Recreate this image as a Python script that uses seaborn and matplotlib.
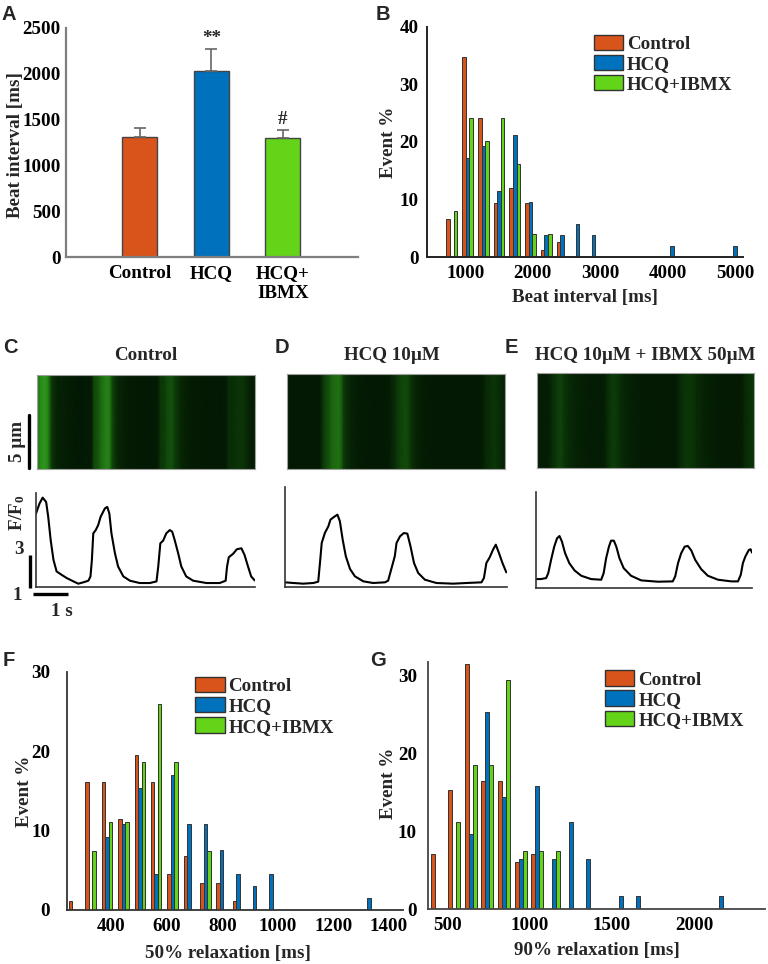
import numpy as np
import pandas as pd
import matplotlib
matplotlib.use("Agg")
import matplotlib.pyplot as plt
from matplotlib.patches import Patch
from matplotlib.colors import LinearSegmentedColormap
import seaborn as sns

groups = ["Control", "HCQ", "HCQ+IBMX"]
colors = ["#D9541A", "#0072BD", "#63D418"]

# A: mean beat interval (ms) and SEM
beat_mean = [1310, 2030, 1302]
beat_sem = [98, 237, 81]
beat_ticklabels = ["Control", "HCQ", "HCQ+\nIBMX"]
beat_marks = ["", "**", "#"]

# B: beat interval histogram, bin centres (ms) and event %
b_bins = [800, 1033, 1266, 1499, 1732, 1965, 2198, 2431, 2664, 2897, 4062, 4994]
b_control = [6.6, 34.7, 24.1, 9.4, 12.0, 9.4, 1.3, 2.6, 0, 0, 0, 0]
b_hcq = [0, 17.3, 19.3, 11.5, 21.2, 9.6, 3.8, 3.8, 5.7, 3.8, 1.9, 1.9]
b_ibmx = [8.0, 24.1, 20.1, 24.1, 16.1, 4.0, 4.0, 0, 0, 0, 0, 0]

# F: 50% relaxation histogram
f_bins = [266, 325, 384, 443, 502, 561, 620, 679, 738, 797, 856, 915, 974, 1328]
f_control = [1.1, 16.1, 16.1, 11.5, 19.5, 16.1, 4.5, 6.8, 3.4, 3.4, 1.1, 0, 0, 0]
f_hcq = [0, 0, 9.2, 10.8, 15.4, 4.5, 17.0, 10.8, 10.8, 7.6, 4.5, 3.0, 4.5, 1.5]
f_ibmx = [0, 7.4, 11.1, 11.1, 18.6, 26.0, 18.6, 0, 7.4, 0, 0, 0, 0, 0]

# G: 90% relaxation histogram
g_bins = [440, 541, 643, 744, 846, 947, 1049, 1150, 1252, 1353, 1556, 1658, 2165]
g_control = [7.1, 15.3, 31.6, 16.5, 16.5, 6.0, 7.1, 0, 0, 0, 0, 0, 0]
g_hcq = [0, 0, 9.6, 25.4, 14.4, 6.5, 15.9, 6.5, 11.2, 6.5, 1.7, 1.7, 1.7]
g_ibmx = [0, 11.2, 18.5, 18.5, 29.5, 7.5, 7.5, 7.5, 0, 0, 0, 0, 0]

# C-E: calcium transients, time (s) and F/F0
c_t = [0, 0.1, 0.19, 0.29, 0.35, 0.42, 0.5, 0.59, 0.73, 0.88, 1.07, 1.21, 1.35, 1.5,
       1.56, 1.6, 1.64, 1.71, 1.78, 1.85, 1.97, 2.04, 2.1, 2.16, 2.26, 2.35, 2.5, 2.69,
       2.97, 3.26, 3.45, 3.5, 3.56, 3.64, 3.73, 3.83, 3.9, 3.97, 4.07, 4.16, 4.3, 4.5,
       4.88, 5.26, 5.43, 5.47, 5.52, 5.64, 5.75, 5.88, 5.97, 6.07, 6.16, 6.26]
c_f = [5.5, 6.1, 6.46, 6.2, 5.3, 3.9, 2.7, 2.0, 1.8, 1.6, 1.4, 1.26, 1.34, 1.44,
       1.7, 2.7, 4.3, 4.5, 4.8, 5.3, 5.8, 5.9, 5.5, 4.3, 3.1, 2.3, 1.7, 1.44,
       1.3, 1.3, 1.4, 2.3, 3.7, 3.86, 4.3, 4.5, 4.4, 3.9, 3.1, 2.3, 1.7, 1.44,
       1.3, 1.3, 1.44, 2.3, 2.86, 3.06, 3.34, 3.4, 3.0, 2.3, 1.7, 1.46]
d_t = [0, 0.24, 0.52, 0.81, 0.95, 1.0, 1.05, 1.14, 1.24, 1.3, 1.4, 1.5, 1.57, 1.65,
       1.74, 1.86, 2.0, 2.24, 2.52, 2.86, 2.95, 3.14, 3.19, 3.29, 3.4, 3.5, 3.59, 3.69,
       3.81, 4.0, 4.33, 4.81, 5.19, 5.62, 5.69, 5.76, 5.86, 5.95, 6.03, 6.12, 6.22, 6.33]
d_f = [1.34, 1.3, 1.26, 1.3, 1.38, 2.5, 3.7, 4.3, 4.7, 5.1, 5.26, 5.4, 5.0, 3.9,
       2.9, 2.14, 1.7, 1.4, 1.3, 1.34, 1.44, 2.9, 3.7, 4.1, 4.3, 4.26, 3.5, 2.5,
       1.9, 1.5, 1.3, 1.26, 1.3, 1.34, 1.6, 2.5, 2.86, 3.3, 3.6, 3.1, 2.5, 1.94]
e_t = [0, 0.14, 0.29, 0.35, 0.43, 0.52, 0.6, 0.67, 0.74, 0.83, 0.95, 1.1, 1.29, 1.57,
       1.86, 1.93, 2.0, 2.08, 2.14, 2.22, 2.29, 2.38, 2.5, 2.71, 3.0, 3.48, 3.9, 3.97,
       4.05, 4.14, 4.24, 4.33, 4.43, 4.54, 4.71, 4.9, 5.19, 5.57, 5.76, 5.84, 5.9, 5.97,
       6.07, 6.12, 6.16]
e_f = [1.54, 1.54, 1.6, 1.9, 2.7, 3.5, 4.0, 4.14, 3.8, 3.1, 2.5, 2.06, 1.74, 1.54,
       1.5, 1.9, 2.8, 3.5, 3.86, 3.86, 3.5, 2.8, 2.2, 1.74, 1.46, 1.38, 1.4, 1.7,
       2.5, 3.1, 3.5, 3.54, 3.26, 2.7, 2.14, 1.74, 1.5, 1.4, 1.4, 1.8, 2.5, 2.9,
       3.3, 3.34, 3.14]

W, H = 768, 964
FS = 13.7
SERIF = ["Liberation Serif", "DejaVu Serif"]

sns.set_style("white")
plt.rcParams["font.family"] = SERIF
plt.rcParams["font.weight"] = "bold"
plt.rcParams["axes.labelweight"] = "bold"
plt.rcParams["mathtext.fontset"] = "custom"
plt.rcParams["mathtext.bf"] = "Liberation Serif:bold"
plt.rcParams["mathtext.rm"] = "Liberation Serif:bold"

fig = plt.figure(figsize=(W / 100, H / 100), dpi=100)


def box(l, t, r, b):
    return [l / W, 1 - b / H, (r - l) / W, (b - t) / H]


def ftext(x, y, s, **kw):
    kw.setdefault("fontsize", FS)
    kw.setdefault("fontweight", "bold")
    return fig.text(x / W, 1 - y / H, s, **kw)


def letter(x, y, s):
    fig.text(x / W, 1 - y / H, s, fontsize=14.5, fontweight="bold",
             family=["Liberation Sans", "DejaVu Sans"], ha="left", va="top")


def style_axes(ax, color, lw=1.3):
    sns.despine(ax=ax)
    for side in ["left", "bottom"]:
        ax.spines[side].set_color(color)
        ax.spines[side].set_linewidth(lw)
    ax.tick_params(length=0, labelsize=FS, colors="black")
    for lab in ax.get_xticklabels() + ax.get_yticklabels():
        lab.set_fontweight("bold")


def hist_panel(ax, bins, control, hcq, ibmx, width):
    df = pd.DataFrame({
        "bin": bins * 3,
        "group": [groups[0]] * len(bins) + [groups[1]] * len(bins) + [groups[2]] * len(bins),
        "pct": list(control) + list(hcq) + list(ibmx),
    })
    df = df[df["pct"] > 0]
    sns.barplot(data=df, x="bin", y="pct", hue="group", hue_order=groups,
                palette=colors, native_scale=True, width=width, errorbar=None,
                edgecolor="#333333", linewidth=0.7, saturation=1, legend=False, ax=ax)
    ax.set_xlabel("")
    ax.set_ylabel("")


def legend(ax, x, y):
    handles = [Patch(facecolor=c, edgecolor="#333333", linewidth=1.0, label=g)
               for c, g in zip(colors, groups)]
    ax.legend(handles=handles, loc="upper left", bbox_to_anchor=(x, y), frameon=False,
              borderpad=0, borderaxespad=0, handlelength=1.55, handleheight=0.85,
              handletextpad=0.2, labelspacing=0.1,
              prop={"family": SERIF, "weight": "bold", "size": FS})


# ---- A: bar chart of mean beat interval
axA = fig.add_axes(box(66, 28, 358, 257))
sns.barplot(x=groups, y=beat_mean, hue=groups, palette=colors, width=0.49,
            edgecolor="#444444", linewidth=1.0, saturation=1, errorbar=None,
            legend=False, ax=axA)
axA.errorbar(range(len(groups)), beat_mean, yerr=[[0] * len(groups), beat_sem],
             fmt="none", ecolor="#666666", elinewidth=1.2, capsize=4, capthick=1.2)
for i, mark in enumerate(beat_marks):
    if mark:
        axA.text(i, beat_mean[i] + beat_sem[i] + 30, mark, ha="center", va="bottom",
                 fontsize=FS, fontweight="bold")
axA.set_xlim(-1.03, 3.05)
axA.set_ylim(0, 2500)
axA.set_yticks([0, 500, 1000, 1500, 2000, 2500])
axA.set_xticks(range(len(groups)))
axA.set_xticklabels(beat_ticklabels)
axA.set_ylabel("Beat interval [ms]", fontsize=FS, fontweight="bold")
axA.yaxis.set_label_coords(-0.145, 0.49)
style_axes(axA, "#7f7f7f", 1.6)
axA.tick_params(axis="y", pad=4)
axA.tick_params(axis="x", pad=6)

# ---- B: beat interval histogram
axB = fig.add_axes(box(427, 27, 743, 257))
hist_panel(axB, b_bins, b_control, b_hcq, b_ibmx, 0.68)
axB.set_xlim(432, 5114)
axB.set_ylim(0, 40)
axB.set_xticks([1000, 2000, 3000, 4000, 5000])
axB.set_yticks([0, 10, 20, 30, 40])
axB.set_xlabel("Beat interval [ms]", fontsize=FS, fontweight="bold")
axB.set_ylabel("Event %", fontsize=FS, fontweight="bold")
axB.xaxis.set_label_coords(0.5, -0.14)
axB.yaxis.set_label_coords(-0.095, 0.5)
style_axes(axB, "#222222", 1.4)
axB.tick_params(axis="y", pad=6)
axB.tick_params(axis="x", pad=6)
legend(axB, 0.528, 0.965)

# ---- C-E: line-scan images and transients
green = LinearSegmentedColormap.from_list("ca", ["#031803", "#0c3a08", "#2e9a1c"])
trace_specs = [
    ("Control", c_t, c_f, (37, 375, 255, 469), (36, 493, 255, 587), (0, 6.27), (1.06, 6.74), 146),
    ("HCQ 10\u00b5M", d_t, d_f, (287, 374, 505, 469), (285, 487, 507, 587), (0, 6.35), (1.06, 7.06), 392),
    ("HCQ 10\u00b5M + IBMX 50\u00b5M", e_t, e_f, (537, 373, 754, 468), (536, 492, 752, 588), (0, 6.16), (1.0, 6.8), 645),
]
trace_axes = []
for title, t, f, ibox, tbox, xl, yl, tx in trace_specs:
    axI = fig.add_axes(box(*ibox))
    tt, yy = np.meshgrid(t, [0, 1])
    axI.pcolormesh(tt, yy, np.vstack([f, f]), shading="gouraud", cmap=green,
                   vmin=1.2, vmax=6.6)
    axI.set_xlim(t[0], t[-1])
    axI.set_ylim(0, 1)
    axI.set_xticks([])
    axI.set_yticks([])
    for sp in axI.spines.values():
        sp.set_color("#a0a0a0")
        sp.set_linewidth(0.8)
    ftext(tx, 355, title, ha="center", va="center")

    axT = fig.add_axes(box(*tbox))
    sns.lineplot(x=t, y=f, ax=axT, color="black", linewidth=1.5, sort=False, estimator=None)
    axT.set_xlim(*xl)
    axT.set_ylim(*yl)
    axT.set_xticks([])
    axT.set_yticks([])
    style_axes(axT, "#333333", 1.2)
    trace_axes.append(axT)

# scale bars for panel C
axC = trace_axes[0]
axC.plot([-0.17, -0.17], [1.0, 3.0], color="black", lw=2.4, clip_on=False, solid_capstyle="butt")
axC.plot([-0.09, 0.91], [0.64, 0.64], color="black", lw=2.4, clip_on=False, solid_capstyle="butt")
fig.add_artist(plt.Line2D([29 / W, 29 / W], [1 - 415 / H, 1 - 468 / H], color="black", lw=2.4))
ftext(17, 441, "5 \u00b5m", rotation=90, ha="center", va="center")
ftext(17, 513, r"$\mathbf{F/F_0}$", rotation=90, ha="center", va="center")
ftext(19, 550, "3", ha="center", va="center")
ftext(17, 596, "1", ha="center", va="center")
ftext(62, 612, "1 s", ha="center", va="center")

# ---- F: 50% relaxation histogram
axF = fig.add_axes(box(67, 672, 403, 910))
hist_panel(axF, f_bins, f_control, f_hcq, f_ibmx, 0.64)
axF.set_xlim(240, 1450)
axF.set_ylim(0, 30)
axF.set_xticks([400, 600, 800, 1000, 1200, 1400])
axF.set_yticks([0, 10, 20, 30])
axF.set_xlabel("50% relaxation [ms]", fontsize=FS, fontweight="bold")
axF.set_ylabel("Event %", fontsize=FS, fontweight="bold")
axF.xaxis.set_label_coords(0.48, -0.145)
axF.yaxis.set_label_coords(-0.1, 0.5)
style_axes(axF, "#333333", 1.3)
axF.tick_params(axis="y", pad=12)
axF.tick_params(axis="x", pad=6)
legend(axF, 0.381, 0.978)

# ---- G: 90% relaxation histogram
axG = fig.add_axes(box(428, 662, 765, 909))
hist_panel(axG, g_bins, g_control, g_hcq, g_ibmx, 0.72)
axG.set_xlim(384, 2431)
axG.set_ylim(0, 31.8)
axG.set_xticks([500, 1000, 1500, 2000])
axG.set_yticks([0, 10, 20, 30])
axG.set_xlabel("90% relaxation [ms]", fontsize=FS, fontweight="bold")
axG.set_ylabel("Event %", fontsize=FS, fontweight="bold")
axG.xaxis.set_label_coords(0.5, -0.135)
axG.yaxis.set_label_coords(-0.092, 0.51)
style_axes(axG, "#444444", 1.3)
axG.tick_params(axis="y", pad=8)
axG.tick_params(axis="x", pad=6)
legend(axG, 0.525, 0.966)

# panel letters
letter(2, 5, "A")
letter(376, 5, "B")
letter(3, 338, "C")
letter(275, 338, "D")
letter(505, 338, "E")
letter(3, 651, "F")
letter(370, 651, "G")

fig.savefig("out.png", dpi=100)
